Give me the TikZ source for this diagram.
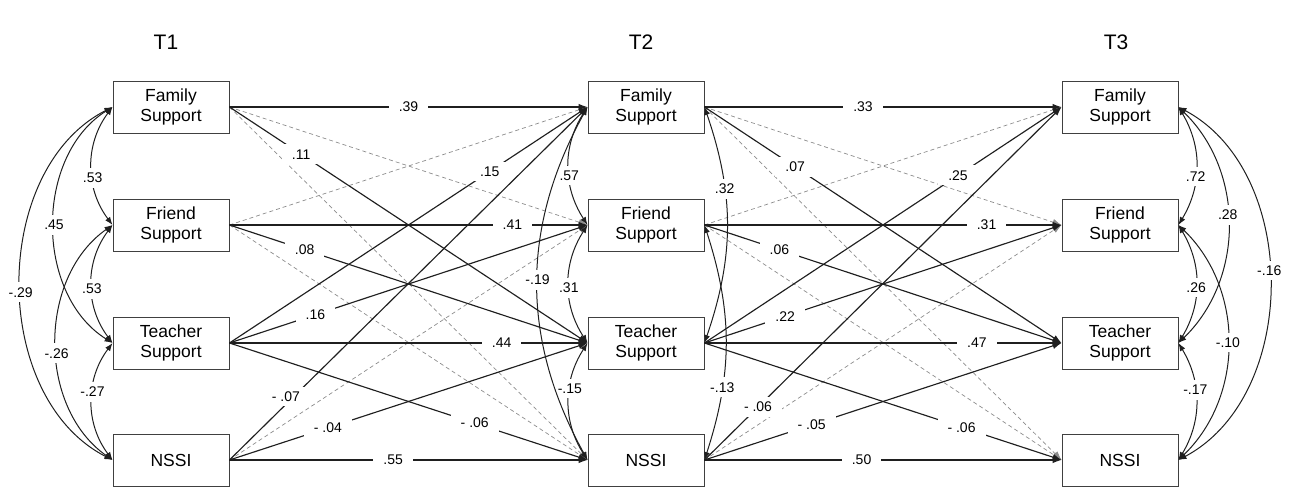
\documentclass[tikz,border=0pt]{standalone}
\usepackage{fontspec}
\setmainfont{Liberation Sans}
\usetikzlibrary{arrows.meta}
\begin{document}
\begin{tikzpicture}[x=1pt,y=-1pt,
  box/.style={draw=black!75, line width=0.9pt, minimum width=116pt, minimum height=52pt,
    align=center, font=\fontsize{17.5}{19.5}\selectfont, inner sep=0pt},
  reg/.style={draw=black!88, line width=1.15pt, -{Latex[length=9pt,width=6.5pt]}},
  nreg/.style={draw=black!45, line width=0.7pt, dash pattern=on 4pt off 3pt,
    -{Latex[length=9pt,width=6.5pt]}},
  cov/.style={draw=black!88, line width=1pt,
    {Latex[length=8pt,width=6pt]}-{Latex[length=8pt,width=6pt]}},
  lab/.style={fill=white, font=\fontsize{14}{16}\selectfont, inner xsep=10pt, inner ysep=5pt},
  clab/.style={fill=white, font=\fontsize{14}{16}\selectfont, inner xsep=1pt, inner ysep=5pt},
  ttl/.style={font=\fontsize{21}{25}\selectfont}]
\useasboundingbox (0,0) rectangle (1291,489);

% titles
\node[ttl] (t1) at (166,42) {T1};
\node[ttl] (t2) at (641,42) {T2};
\node[ttl] (t3) at (1116,42) {T3};

% boxes
\node[box] (fa1) at (171,107) {Family\\Support};
\node[box] (fr1) at (171,225) {Friend\\Support};
\node[box] (te1) at (171,343) {Teacher\\Support};
\node[box] (ns1) at (171,460) {NSSI};
\node[box] (fa2) at (646,107) {Family\\Support};
\node[box] (fr2) at (646,225) {Friend\\Support};
\node[box] (te2) at (646,343) {Teacher\\Support};
\node[box] (ns2) at (646,460) {NSSI};
\node[box] (fa3) at (1120,107) {Family\\Support};
\node[box] (fr3) at (1120,225) {Friend\\Support};
\node[box] (te3) at (1120,343) {Teacher\\Support};
\node[box] (ns3) at (1120,460) {NSSI};

% non-significant paths T1 -> T2
\draw[nreg] (fa1.east) -- (fr2.west);
\draw[nreg] (fa1.east) -- (ns2.west);
\draw[nreg] (fr1.east) -- (fa2.west);
\draw[nreg] (fr1.east) -- (ns2.west);
\draw[nreg] (ns1.east) -- (fr2.west);
% non-significant paths T2 -> T3
\draw[nreg] (fa2.east) -- (fr3.west);
\draw[nreg] (fa2.east) -- (ns3.west);
\draw[nreg] (fr2.east) -- (fa3.west);
\draw[nreg] (fr2.east) -- (ns3.west);
\draw[nreg] (ns2.east) -- (fr3.west);

% significant paths T1 -> T2
\draw[reg] (fa1.east) -- node[lab,pos=0.5]{.39} (fa2.west);
\draw[reg] (fa1.east) -- node[lab,pos=0.2]{.11} (te2.west);
\draw[reg] (fr1.east) -- node[lab,pos=0.79]{.41} (fr2.west);
\draw[reg] (fr1.east) -- node[lab,pos=0.21]{.08} (te2.west);
\draw[reg] (te1.east) -- node[lab,pos=0.727]{.15} (fa2.west);
\draw[reg] (te1.east) -- node[lab,pos=0.24]{.16} (fr2.west);
\draw[reg] (te1.east) -- node[lab,pos=0.76]{.44} (te2.west);
\draw[reg] (te1.east) -- node[lab,pos=0.685]{- .06} (ns2.west);
\draw[reg] (ns1.east) -- node[lab,pos=0.18,xshift=-8pt]{- .07} (fa2.west);
\draw[reg] (ns1.east) -- node[lab,pos=0.275]{- .04} (te2.west);
\draw[reg] (ns1.east) -- node[lab,pos=0.457]{.55} (ns2.west);

% significant paths T2 -> T3
\draw[reg] (fa2.east) -- node[lab,pos=0.444]{.33} (fa3.west);
\draw[reg] (fa2.east) -- node[lab,pos=0.254]{.07} (te3.west);
\draw[reg] (fr2.east) -- node[lab,pos=0.79]{.31} (fr3.west);
\draw[reg] (fr2.east) -- node[lab,pos=0.21]{.06} (te3.west);
\draw[reg] (te2.east) -- node[lab,pos=0.71]{.25} (fa3.west);
\draw[reg] (te2.east) -- node[lab,pos=0.226]{.22} (fr3.west);
\draw[reg] (te2.east) -- node[lab,pos=0.763]{.47} (te3.west);
\draw[reg] (te2.east) -- node[lab,pos=0.72]{- .06} (ns3.west);
\draw[reg] (ns2.east) -- node[lab,pos=0.15]{- .06} (fa3.west);
\draw[reg] (ns2.east) -- node[lab,pos=0.3]{- .05} (te3.west);
\draw[reg] (ns2.east) -- node[lab,pos=0.44]{.50} (ns3.west);

% covariances T1 (left side)
\draw[cov] (fa1.west) to[bend right=37] node[clab,pos=0.6]{.53} (fr1.west);
\draw[cov] (fr1.west) to[bend right=37] node[clab,pos=0.54]{.53} (te1.west);
\draw[cov] (te1.west) to[bend right=37] node[clab,pos=0.42]{-.27} (ns1.west);
\draw[cov] (fa1.west) to[bend right=58] node[clab,pos=0.5]{.45} (te1.west);
\draw[cov] (fr1.west) to[bend right=55] node[clab,pos=0.54]{-.26} (ns1.west);
\draw[cov] (fa1.west) to[bend right=63] node[clab,pos=0.52]{-.29} (ns1.west);

% covariances T2 (left side)
\draw[cov] (fa2.west) to[bend right=33] node[clab,pos=0.58]{.57} (fr2.west);
\draw[cov] (fr2.west) to[bend right=33] node[clab,pos=0.53]{.31} (te2.west);
\draw[cov] (te2.west) to[bend right=33] node[clab,pos=0.39]{-.15} (ns2.west);
\draw[cov] (fa2.west) to[bend right=29] node[clab,pos=0.49]{-.19} (ns2.west);
% covariances T2 (right side)
\draw[cov] (fa2.east) to[bend left=19] node[clab,pos=0.34]{.32} (te2.east);
\draw[cov] (fr2.east) to[bend left=18] node[clab,pos=0.7]{-.13} (ns2.east);

% covariances T3 (right side)
\draw[cov] (fa3.east) to[bend left=31] node[clab,pos=0.59]{.72} (fr3.east);
\draw[cov] (fr3.east) to[bend left=31] node[clab,pos=0.53]{.26} (te3.east);
\draw[cov] (te3.east) to[bend left=31] node[clab,pos=0.4]{-.17} (ns3.east);
\draw[cov] (fa3.east) to[bend left=46] node[clab,pos=0.46]{.28} (te3.east);
\draw[cov] (fr3.east) to[bend left=46] node[clab,pos=0.5]{-.10} (ns3.east);
\draw[cov] (fa3.east) to[bend left=62] node[clab,pos=0.47]{-.16} (ns3.east);
\end{tikzpicture}
\end{document}
